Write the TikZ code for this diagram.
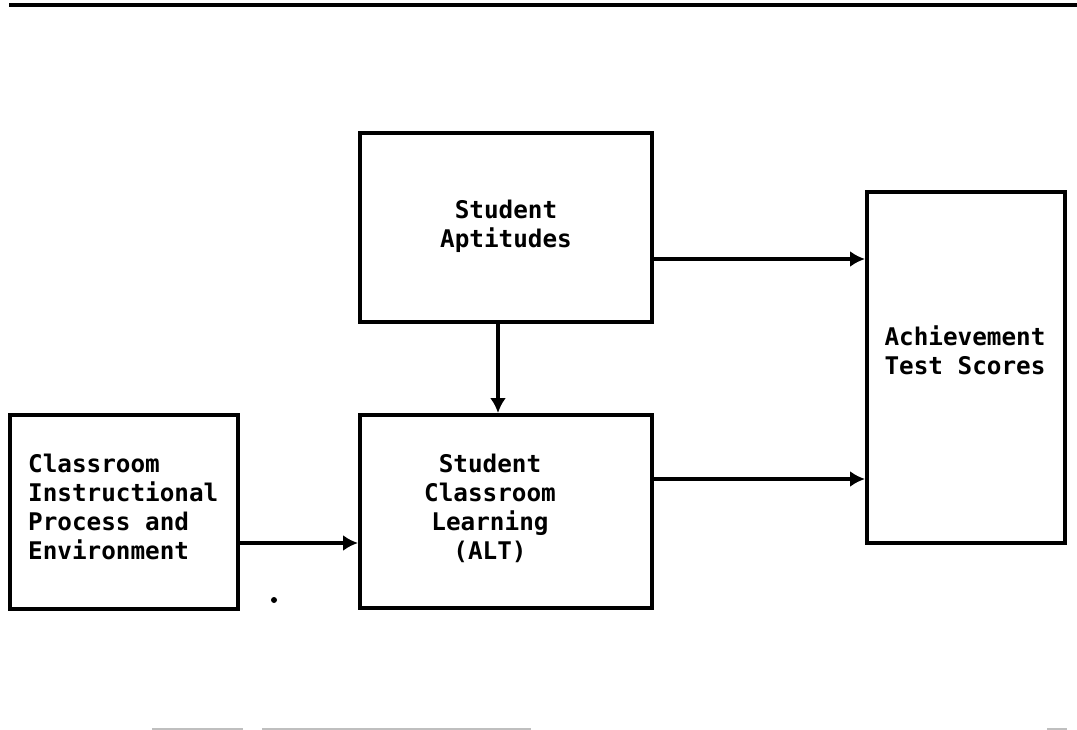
\documentclass[tikz,border=0pt]{standalone}
\usepackage{fontspec}
\setmonofont{DejaVu Sans Mono}
\usetikzlibrary{arrows.meta}
\begin{document}
\begin{tikzpicture}[x=1pt,y=-1pt,
box/.style={draw,line width=4pt,inner sep=0pt},
txt/.style={inner sep=0pt,font=\ttfamily\bfseries\fontsize{24.3}{29}\selectfont},
arr/.style={line width=3.5pt,-{Latex[length=15pt,width=16pt]}}]
\useasboundingbox (0,0) rectangle (1077,730);
\draw[line width=4pt] (9,5)--(1077,5); %top rule
\node[box,minimum width=228pt,minimum height=194pt] (cls) at (124,512) {};
\node[box,minimum width=292pt,minimum height=189pt] (apt) at (506,227.5) {};
\node[box,minimum width=292pt,minimum height=193pt] (learn) at (506,511.5) {};
\node[box,minimum width=198pt,minimum height=351pt] (ach) at (966,367.5) {};
\node[txt,anchor=north west,align=left] (cls-t) at (28,454) {Classroom\\Instructional\\Process and\\Environment};
\node[txt,anchor=north,align=center] (apt-t) at (506,200) {Student\\Aptitudes};
\node[txt,anchor=north,align=center] (learn-t) at (490,454) {Student\\Classroom\\Learning\\(ALT)};
\node[txt,anchor=north,align=center] (ach-t) at (965,326) {Achievement\\Test Scores};
\draw[arr] (apt.east |- 0,259)--(ach.west |- 0,259);
\draw[arr] (learn.east |- 0,479)--(ach.west |- 0,479);
\draw[arr] (cls.east |- 0,543)--(learn.west |- 0,543);
\draw[arr] (apt.south -| 498,0)--(learn.north -| 498,0);
\fill (274,600) circle (3); %stray dot
%faint marks at the bottom
\draw[gray!50,line width=1.5pt] (152,729)--(243,729) (262,729)--(531,729) (1047,729)--(1067,729);
\end{tikzpicture}
\end{document}
